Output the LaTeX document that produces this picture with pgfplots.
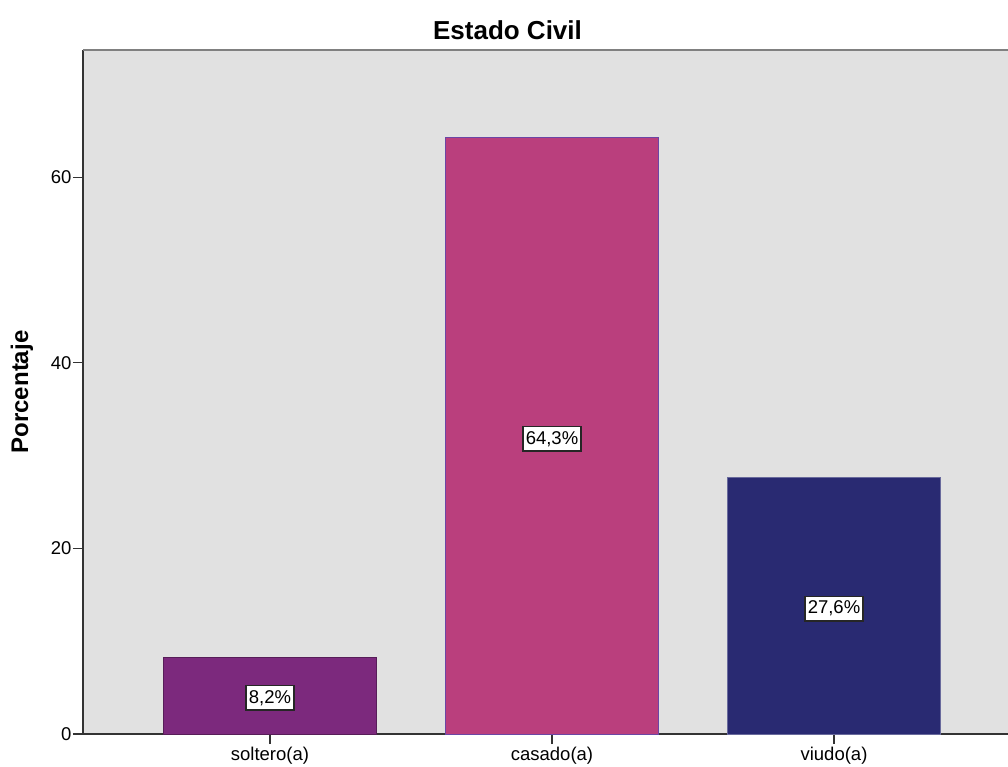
\documentclass[border=0pt]{standalone}
\usepackage{pgfplots}
\pgfplotsset{compat=1.18}
\usepackage{fontspec}
\setmainfont{Liberation Sans}
\definecolor{bgc}{RGB}{225,225,225}
\definecolor{csol}{RGB}{124,41,125}
\definecolor{ccas}{RGB}{186,63,125}
\definecolor{cviu}{RGB}{41,42,114}
\begin{document}
\begin{tikzpicture}
\begin{axis}[name=ax, scale only axis, width=925bp, height=684bp,
  xmin=-0.663, xmax=2.617, ymin=0, ymax=73.7,
  axis background/.style={fill=bgc},
  axis x line*=bottom, axis y line*=left,
  axis line style={draw=black!80, line width=1.5bp, -},
  xtick={0,1,2}, xticklabels={soltero(a),casado(a),viudo(a)},
  ytick={0,20,40,60},
  tick align=outside, major tick length=10bp,
  tick style={black!80, line width=1.2bp},
  ticklabel style={font=\fontsize{18.5bp}{22bp}\selectfont},
  /pgf/number format/assume math mode=true,
  yticklabel style={xshift=2bp},
  ybar, bar width=213bp, bar shift=0pt,
  clip=false]
\addplot[fill=csol, draw=csol!70!black, line width=0.8bp] coordinates {(0,8.2)};
\addplot[fill=ccas, draw=ccas!50!blue!60!gray, line width=1bp] coordinates {(1,64.3)};
\addplot[fill=cviu, draw=cviu!70!white, line width=0.8bp] coordinates {(2,27.6)};
\addplot[draw=none, fill=none, mark=none, nodes near coords, point meta=explicit symbolic,
  nodes near coords style={anchor=center, fill=white, draw=black!85, line width=1.5bp, inner xsep=3bp, inner ysep=4.5bp, font=\fontsize{18.5bp}{22bp}\selectfont}]
  coordinates {(0,3.9)[8,2\%] (1,31.8)[64,3\%] (2,13.5)[27,6\%]};
\draw[draw=black!50, line width=2.5bp] (rel axis cs:0,1) -- (rel axis cs:1.1,1);
\end{axis}
\node[rotate=90, font=\fontsize{24bp}{28bp}\selectfont\bfseries] at ([xshift=-61bp]ax.west) {Porcentaje};
\node[font=\fontsize{26bp}{30bp}\selectfont\bfseries] at ([xshift=-38bp, yshift=20bp]ax.north) {Estado Civil};
\pgfresetboundingbox
\path ([xshift=-83bp, yshift=-33bp]ax.south west) rectangle ([yshift=50bp]ax.north east);
\end{tikzpicture}
\end{document}
